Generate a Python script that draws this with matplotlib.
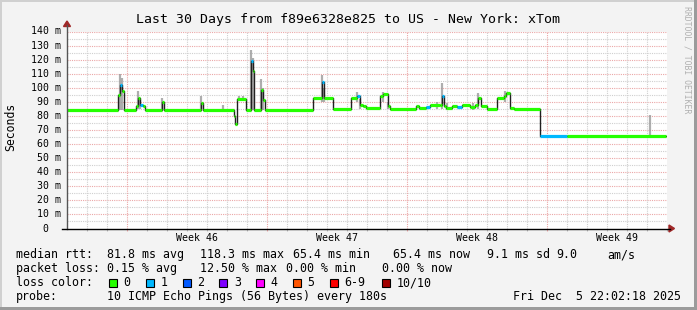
import matplotlib
matplotlib.use("Agg")
import matplotlib.pyplot as plt
from matplotlib.patches import Rectangle, Polygon
from matplotlib.transforms import blended_transform_factory

W, H = 697, 310

# median rtt (ms), step series over the 30 day window (day 0 = left edge)
days = [0.00, 2.55, 2.65, 2.75, 2.85, 3.45, 3.55, 3.65, 3.80, 3.90, 4.75, 4.85, 6.70, 6.80,
        8.35, 8.40, 8.50, 8.95, 9.20, 9.30, 9.35, 9.70, 9.80, 9.90, 12.30, 12.75, 12.85, 13.30,
        14.20, 14.50, 14.65, 14.80, 14.95, 15.65, 15.80, 16.05, 16.15, 17.45, 17.60, 17.95,
        18.15, 18.65, 18.75, 18.85, 18.95, 19.25, 19.50, 19.75, 20.15, 20.40, 20.55, 20.70,
        21.00, 21.50, 21.85, 21.95, 22.15, 22.35, 23.65, 25.00]
rtt = [84.5, 95, 102, 98, 84.5, 87, 92.8, 88, 87, 84.5, 90, 84.5, 89.5, 84.5,
       80, 74, 92.3, 84.5, 119, 112, 84.5, 98.5, 91, 84.5, 92.4, 104, 92.4, 85,
       92.8, 94, 88, 87, 85.5, 94, 95.7, 87, 85, 87, 85.5, 86.5,
       87.5, 88, 94, 87, 85.7, 87, 86, 87.5, 86.5, 88, 92.8, 87,
       85, 92.8, 94.5, 96, 85.7, 85, 66, 66]
loss = [0, 0, 1, 0, 0, 0, 0, 1, 0, 0, 0, 0, 0, 0,
        0, 0, 0, 0, 1, 0, 0, 0, 0, 0, 0, 1, 0, 0,
        0, 1, 0, 0, 0, 0, 0, 0, 0, 0, 0, 1,
        0, 0, 1, 0, 0, 0, 1, 0, 0, 0, 0, 0,
        0, 0, 0, 0, 0, 0, 1, 0]
data_end = 29.95

# smoke (spread of the pings)
smoke_day = [2.65, 2.75, 3.55, 3.65, 4.75, 6.70, 7.80, 8.60, 8.80, 9.20, 9.30, 9.70, 9.80,
             12.75, 12.85, 14.50, 14.65, 15.80, 16.05, 18.50, 18.75, 19.00, 20.30, 20.55,
             21.90, 29.15]
smoke_lo = [84, 84, 85, 85, 85, 85, 84, 91, 91, 84, 84, 84, 84, 90, 90, 90, 85, 90, 85,
            85, 85, 84, 84, 85, 90, 64]
smoke_hi = [109.5, 107, 97.6, 92, 92.8, 94, 88, 94.5, 94, 127, 121, 106, 100, 109, 100,
            97, 92, 97, 90, 90, 103.6, 89, 89, 96.4, 98, 81]

week_pos = [6.5, 13.5, 20.5, 27.5]
week_labels = ["Week 46", "Week 47", "Week 48", "Week 49"]
week_lines = [3, 10, 17, 24]

loss_colors = ["#26ff00", "#00b8ff", "#0059ff", "#7e00ff", "#ff00ff", "#ff5500", "#ff0000", "#a10000"]
loss_names = ["0", "1", "2", "3", "4", "5", "6-9", "10/10"]

MONO = "DejaVu Sans Mono"


def px(x, y):
    return x / W, 1 - y / H


fig = plt.figure(figsize=(W / 100, H / 100), dpi=100, facecolor="#f3f3f3")
l, b = px(67, 228.5)
ax = fig.add_axes([l, b, 600 / W, (228.5 - 31.5) / H])
ax.set_xlim(0, 30)
ax.set_ylim(0, 140)
ax.set_facecolor("white")
for s in ax.spines.values():
    s.set_visible(False)
ax.set_xticks([])
ax.set_yticks([])

# grid
for v in range(5, 141, 5):
    if v % 10 == 0:
        ax.axhline(v, color="#eba7a7", lw=0.8, ls=(0, (1, 1)), zorder=1)
    else:
        ax.axhline(v, color="#cfcfcf", lw=0.8, ls=(0, (1, 1)), zorder=1)
for d in range(1, 30):
    if d in week_lines:
        ax.axvline(d, color="#eba7a7", lw=0.8, ls=(0, (1, 1)), zorder=1)
    else:
        ax.axvline(d, color="#cfcfcf", lw=0.8, ls=(0, (1, 1)), zorder=1)
for d in range(1, 31):
    ax.vlines(d, -1.6, 0, color="#eba7a7" if d in week_lines else "#bbbbbb", lw=0.8, clip_on=False)

# smoke
ax.vlines(smoke_day, smoke_lo, smoke_hi, color="#9a9a9a", lw=1.6, alpha=0.8, zorder=2)

# median line
xs = days + [data_end]
ys = rtt + [rtt[-1]]
ax.step(xs, ys, where="post", color="#202020", lw=1.0, zorder=3)
ax.hlines(rtt, days, xs[1:], colors=[loss_colors[k] for k in loss], lw=2.3, zorder=4)

# axes with arrows
fig.add_artist(plt.Line2D([67 / W, 67 / W], [px(0, 229)[1], px(0, 25)[1]], color="#555555", lw=1))
fig.add_artist(plt.Line2D([62 / W, 670 / W], [px(0, 228.5)[1]] * 2, color="black", lw=1))
fig.add_artist(Polygon([px(63.5, 26.5), px(70.5, 26.5), px(67, 21)], closed=True,
                       color="#a02828", transform=fig.transFigure))
fig.add_artist(Polygon([px(669, 225), px(669, 232), px(674.5, 228.5)], closed=True,
                       color="#a02828", transform=fig.transFigure))

# tick labels
ty = blended_transform_factory(fig.transFigure, ax.transData)
for v in range(0, 141, 10):
    if v == 0:
        ax.text(45 / W, v, "0", transform=ty, ha="center", va="center", fontsize=7.1, family=MONO)
    else:
        ax.text(60.5 / W, v, f"{v} m", transform=ty, ha="right", va="center", fontsize=7.1, family=MONO)
tx = blended_transform_factory(ax.transData, fig.transFigure)
for p, lab in zip(week_pos, week_labels):
    ax.text(p, px(0, 238)[1], lab, transform=tx, ha="center", va="center", fontsize=7.1, family=MONO)

fig.text(*px(348, 19), "Last 30 Days from f89e6328e825 to US - New York: xTom",
         ha="center", va="center", fontsize=9.5, family=MONO)
fig.text(*px(11, 127), "Seconds", rotation=90, ha="center", va="center", fontsize=8.3, family=MONO)
fig.text(*px(687, 60), "RRDTOOL / TOBI OETIKER", rotation=270, ha="center", va="center",
         fontsize=5.9, family=MONO, color="#b0b0b0")

# legend
FS = 8.35
rows = [
    (254.5, [(16, "median rtt:"), (107, "81.8 ms avg"), (200, "118.3 ms max"), (293, "65.4 ms min"),
             (393, "65.4 ms now"), (487, "9.1 ms sd"), (556, "9.0"), (607, "am/s")]),
    (268.5, [(16, "packet loss:"), (107, "0.15 % avg"), (200, "12.50 % max"), (286, "0.00 % min"),
             (382, "0.00 % now")]),
    (282.5, [(16, "loss color:")]),
    (296.5, [(16, "probe:"), (107, "10 ICMP Echo Pings (56 Bytes) every 180s"),
             (513, "Fri Dec  5 22:02:18 2025")]),
]
for y, items in rows:
    for x, s in items:
        fig.text(*px(x, y), s, ha="left", va="center", fontsize=FS, family=MONO)

box_x = [108.7, 145.7, 182.7, 219.3, 256, 292.7, 330, 381.7]
for bx, c, name in zip(box_x, loss_colors, loss_names):
    fig.add_artist(Rectangle(px(bx, 286.7), 8 / W, 8 / H, transform=fig.transFigure,
                             facecolor=c, edgecolor="black", lw=0.8))
    fig.text(*px(bx + 14.5, 282.5), name, ha="left", va="center", fontsize=FS, family=MONO)

# frame
fig.add_artist(Rectangle((0, 1 - 2 / H), 1, 2 / H, transform=fig.transFigure, color="#d0d0d0", lw=0))
fig.add_artist(Rectangle((0, 0), 2 / W, 1, transform=fig.transFigure, color="#d0d0d0", lw=0))
fig.add_artist(Rectangle((1 - 3 / W, 0), 3 / W, 1, transform=fig.transFigure, color="#9b9b9b", lw=0))
fig.add_artist(Rectangle((0, 0), 1, 3 / H, transform=fig.transFigure, color="#9b9b9b", lw=0))

fig.savefig("out.png", dpi=100, facecolor=fig.get_facecolor())
